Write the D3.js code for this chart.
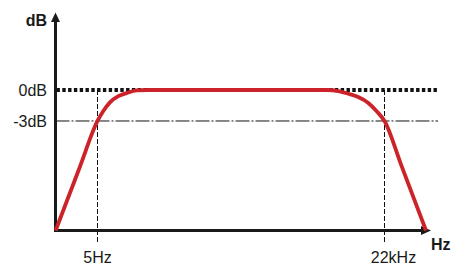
<!DOCTYPE html>
<html>
<head>
<meta charset="utf-8">
<script src="https://cdn.jsdelivr.net/npm/d3@7"></script>
<style>
	body { margin: 0; background: #fff; }
	text { font-family: Arial, "Liberation Sans", sans-serif; fill: #1a1a1a; }
</style>
</head>
<body>
<svg id="chart"></svg>
<script>
// response curve (Hz / dB)
const freqs = [1.47, 3, 5, 5.9, 7.2, 9.2, 11.7, 15.7, 22, 100, 1000, 4000, 5900, 7600, 10200, 13700, 17500, 22000, 36000, 74000];
const gains = [-13.6, -7.4, -3, -2.06, -1.2, -0.6, -0.3, -0.04, 0, 0, 0, 0, -0.13, -0.36, -0.68, -1.25, -2.05, -3, -7.3, -13.6];

const refLevels = [0, -3];
const refLabels = ['0dB', '-3dB'];
const cornerFreqs = [5, 22000];
const cornerLabels = ['5Hz', '22kHz'];

const width = 461, height = 280;
const originX = 55.5, originY = 230.5;
const lineEnd = 438;

const svg = d3.select('#chart')
	.attr('width', width)
	.attr('height', height);

const xScale = d3.scaleLog()
	.domain([5, 22000])
	.range([97.5, 384.5]);

const yScale = d3.scaleLinear()
	.domain([-13.6, 0])
	.range([originY, 90]);

const data = freqs.map((f, i) => ({ f: f, db: gains[i] }));

// -3dB guide
svg.append('line')
	.attr('x1', originX).attr('x2', lineEnd)
	.attr('y1', yScale(-3)).attr('y2', yScale(-3))
	.style('stroke', '#111')
	.style('stroke-width', 1)
	.style('stroke-dasharray', '14,2,2,2');

// corner frequency guides
svg.selectAll('.vguide')
	.data(cornerFreqs)
	.enter()
	.append('line')
	.attr('class', 'vguide')
	.attr('x1', d => xScale(d)).attr('x2', d => xScale(d))
	.attr('y1', yScale(0)).attr('y2', 242)
	.style('stroke', '#111')
	.style('stroke-width', 1)
	.style('stroke-dasharray', '5,2');

// 0dB dotted line
svg.append('line')
	.attr('x1', originX + 1).attr('x2', lineEnd)
	.attr('y1', yScale(0)).attr('y2', yScale(0))
	.style('stroke', '#111')
	.style('stroke-width', 4)
	.style('stroke-dasharray', '3.4,2.4');

// axes
svg.append('line')
	.attr('x1', originX).attr('x2', originX)
	.attr('y1', originY + 1.5).attr('y2', 20)
	.style('stroke', '#1a1a1a')
	.style('stroke-width', 3);
svg.append('path')
	.attr('d', `M${originX},12.5 L${originX - 4.5},22 L${originX + 4.5},22 Z`)
	.style('fill', '#1a1a1a');

svg.append('line')
	.attr('x1', originX - 1.5).attr('x2', 424)
	.attr('y1', originY).attr('y2', originY)
	.style('stroke', '#1a1a1a')
	.style('stroke-width', 3);
svg.append('path')
	.attr('d', `M431,${originY} L421,${originY - 4.5} L421,${originY + 4.5} Z`)
	.style('fill', '#1a1a1a');

// response curve
const line = d3.line()
	.x(d => xScale(d.f))
	.y(d => yScale(d.db))
	.curve(d3.curveMonotoneX);

svg.append('path')
	.datum(data)
	.attr('d', line)
	.style('fill', 'none')
	.style('stroke', '#cc2229')
	.style('stroke-width', 3.8)
	.style('stroke-linejoin', 'round');

// labels
svg.append('text')
	.attr('x', 47).attr('y', 26)
	.attr('text-anchor', 'end')
	.style('font-size', '16px')
	.style('font-weight', 'bold')
	.text('dB');

svg.append('text')
	.attr('x', 431).attr('y', 250)
	.style('font-size', '16px')
	.style('font-weight', 'bold')
	.text('Hz');

svg.selectAll('.ylabel')
	.data(refLevels)
	.enter()
	.append('text')
	.attr('class', 'ylabel')
	.attr('x', 47)
	.attr('y', d => yScale(d) + 6)
	.attr('text-anchor', 'end')
	.style('font-size', '16px')
	.text((d, i) => refLabels[i]);

svg.selectAll('.xlabel')
	.data(cornerFreqs)
	.enter()
	.append('text')
	.attr('class', 'xlabel')
	.attr('x', (d, i) => xScale(d) + (i === 1 ? 9 : 0))
	.attr('y', 263)
	.attr('text-anchor', 'middle')
	.style('font-size', '16px')
	.text((d, i) => cornerLabels[i]);
</script>
</body>
</html>
